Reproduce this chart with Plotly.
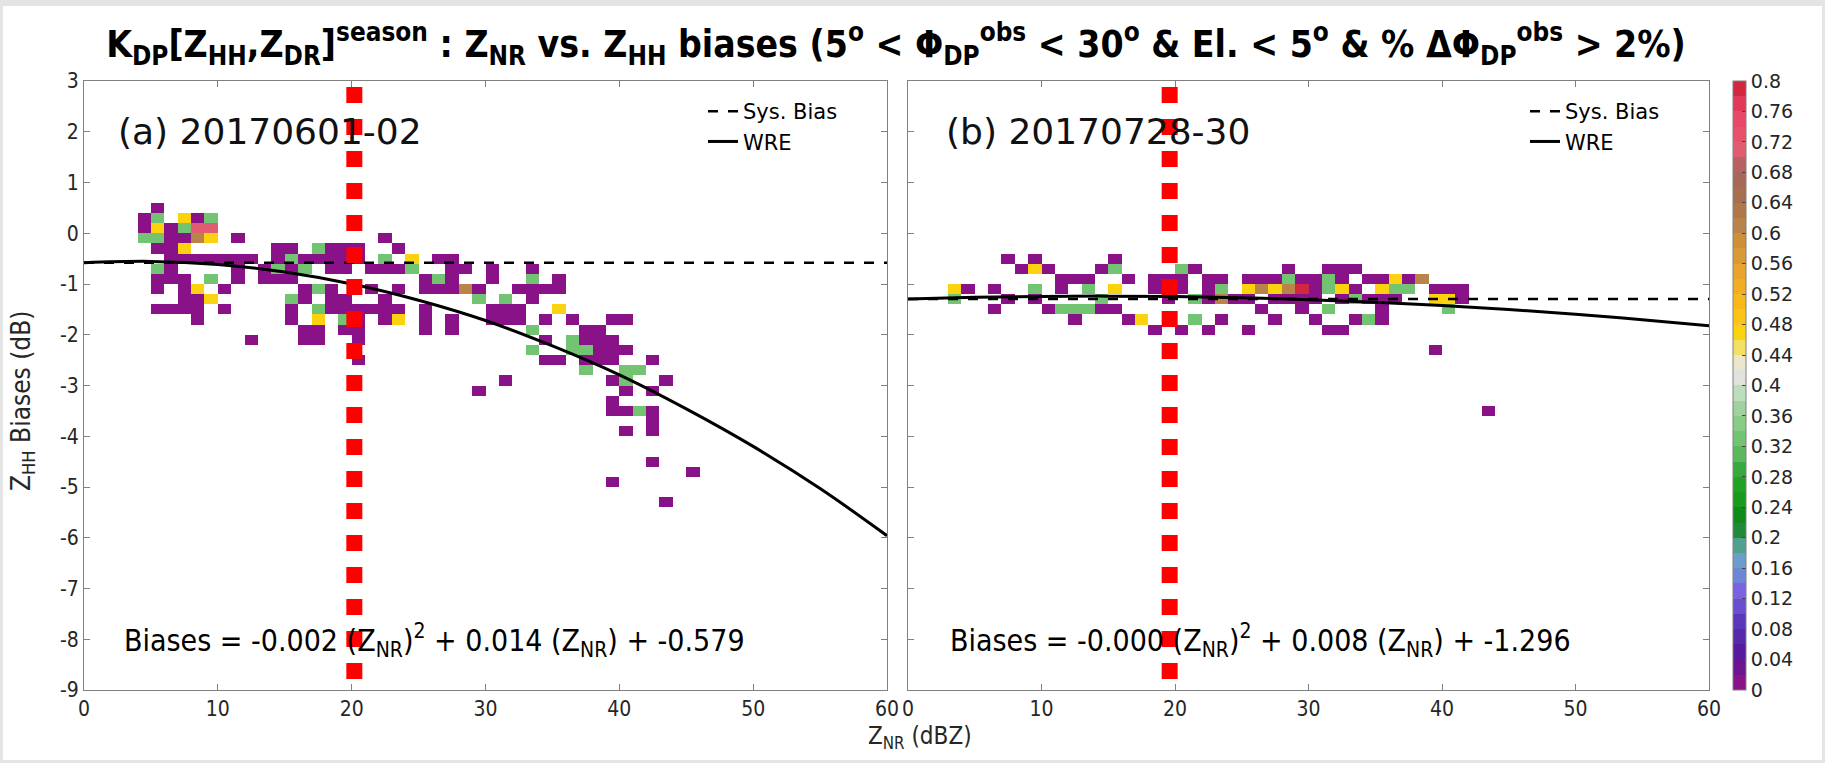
import plotly.graph_objects as go

# ---------------- data ----------------
# fraction levels used by the cells
P, G, Y, B, K, R = 0.01, 0.33, 0.47, 0.61, 0.71, 0.79

# Panel (a) 20170601-02 : rows of (bias bin centre, ZNR bin centres, fractions)
A_ROWS = [
    (0.5,  [5.5], [P]),
    (0.3,  [4.5, 5.5, 7.5, 8.5, 9.5], [P, G, Y, P, G]),
    (0.1,  [4.5, 5.5, 6.5, 7.5, 8.5, 9.5], [P, Y, P, G, K, K]),
    (-0.1, [4.5, 5.5, 6.5, 7.5, 8.5, 9.5, 11.5, 22.5], [G, G, P, P, B, Y, P, P]),
    (-0.3, [5.5, 6.5, 7.5, 14.5, 15.5, 17.5, 18.5, 19.5, 20.5, 23.5], [P, P, Y, P, P, G, P, P, P, P]),
    (-0.5, [6.5, 7.5, 8.5, 9.5, 10.5, 11.5, 12.5, 14.5, 15.5, 16.5, 17.5, 18.5, 19.5, 20.5, 22.5, 24.5, 26.5, 27.5],
           [P, P, P, P, P, P, P, P, G, P, P, P, P, P, G, Y, P, P]),
    (-0.7, [5.5, 6.5, 11.5, 13.5, 14.5, 15.5, 16.5, 18.5, 19.5, 21.5, 22.5, 23.5, 24.5, 27.5, 28.5, 30.5, 33.5],
           [G, P, P, P, G, P, G, P, P, P, P, P, G, P, P, P, P]),
    (-0.9, [5.5, 6.5, 7.5, 9.5, 11.5, 13.5, 14.5, 15.5, 25.5, 26.5, 27.5, 30.5, 33.5, 35.5],
           [P, P, P, G, P, P, P, P, P, G, P, P, G, P]),
    (-1.1, [5.5, 7.5, 8.5, 10.5, 16.5, 17.5, 18.5, 21.5, 23.5, 25.5, 26.5, 27.5, 28.5, 29.5, 32.5, 33.5, 34.5, 35.5],
           [P, P, Y, P, P, G, P, P, P, P, P, P, B, P, P, P, P, P]),
    (-1.3, [7.5, 8.5, 9.5, 15.5, 16.5, 18.5, 19.5, 22.5, 29.5, 31.5, 33.5], [P, P, Y, G, P, P, P, P, G, G, P]),
    (-1.5, [5.5, 6.5, 7.5, 8.5, 10.5, 15.5, 17.5, 18.5, 19.5, 20.5, 21.5, 22.5, 23.5, 25.5, 30.5, 31.5, 32.5, 35.5],
           [P, P, P, P, P, P, G, P, P, P, P, P, P, P, P, P, P, Y]),
    (-1.7, [8.5, 15.5, 17.5, 19.5, 20.5, 22.5, 23.5, 25.5, 27.5, 30.5, 31.5, 32.5, 34.5, 36.5, 39.5, 40.5],
           [P, P, Y, G, P, P, Y, P, P, P, P, P, P, P, P, P]),
    (-1.9, [16.5, 17.5, 19.5, 20.5, 25.5, 27.5, 33.5, 37.5, 38.5], [P, P, P, P, P, P, G, P, P]),
    (-2.1, [12.5, 16.5, 17.5, 20.5, 34.5, 36.5, 37.5, 38.5, 39.5], [P, P, P, P, P, G, P, P, P]),
    (-2.3, [33.5, 36.5, 37.5, 38.5, 39.5, 40.5], [G, G, G, P, P, P]),
    (-2.5, [20.5, 34.5, 35.5, 37.5, 38.5, 39.5, 42.5], [P, P, P, P, P, P, P]),
    (-2.7, [37.5, 40.5, 41.5], [G, G, G]),
    (-2.9, [31.5, 39.5, 40.5, 43.5], [P, P, G, P]),
    (-3.1, [29.5, 40.5, 42.5], [P, P, P]),
    (-3.3, [39.5], [P]),
    (-3.5, [39.5, 40.5, 41.5, 42.5], [P, P, G, P]),
    (-3.7, [42.5], [P]),
    (-3.9, [40.5, 42.5], [P, P]),
    (-4.5, [42.5], [P]),
    (-4.7, [45.5], [P]),
    (-4.9, [39.5], [P]),
    (-5.3, [43.5], [P]),
]

# Panel (b) 20170728-30
B_ROWS = [
    (-0.5, [7.5, 9.5, 15.5], [P, P, P]),
    (-0.7, [8.5, 9.5, 10.5, 14.5, 15.5, 20.5, 21.5, 28.5, 31.5, 32.5, 33.5], [P, Y, P, P, G, G, P, P, P, P, P]),
    (-0.9, [11.5, 12.5, 13.5, 16.5, 18.5, 19.5, 20.5, 22.5, 23.5, 25.5, 26.5, 27.5, 28.5, 29.5, 30.5, 31.5, 32.5,
            34.5, 35.5, 36.5, 37.5, 38.5],
           [P, P, P, P, P, P, P, P, P, P, P, P, G, P, P, G, P, P, P, Y, P, B]),
    (-1.1, [3.5, 4.5, 6.5, 9.5, 11.5, 13.5, 15.5, 18.5, 19.5, 20.5, 22.5, 23.5, 25.5, 26.5, 27.5, 28.5, 29.5, 30.5,
            31.5, 32.5, 33.5, 35.5, 36.5, 37.5, 39.5, 40.5, 41.5],
           [Y, P, P, G, P, G, Y, P, P, P, P, G, Y, B, Y, B, R, P, G, Y, P, Y, G, G, P, P, P]),
    (-1.3, [3.5, 7.5, 9.5, 14.5, 19.5, 21.5, 22.5, 23.5, 24.5, 25.5, 27.5, 28.5, 29.5, 30.5, 32.5, 33.5, 34.5, 35.5,
            36.5, 39.5, 40.5, 41.5],
           [G, P, P, G, P, G, P, B, P, P, P, P, P, P, P, G, P, P, P, Y, Y, P]),
    (-1.5, [6.5, 10.5, 11.5, 12.5, 13.5, 14.5, 15.5, 26.5, 29.5, 31.5, 35.5, 40.5], [P, P, G, G, G, P, P, P, P, G, P, G]),
    (-1.7, [12.5, 16.5, 17.5, 21.5, 23.5, 27.5, 30.5, 33.5, 34.5, 35.5], [P, P, Y, G, P, P, P, P, G, P]),
    (-1.9, [18.5, 20.5, 22.5, 25.5, 31.5, 32.5], [P, P, P, P, P, P]),
    (-2.3, [39.5], [P]),
    (-3.5, [43.5], [P]),
]

# WRE curves (ZNR every 5 dBZ)
WRE_X = [0, 5, 10, 15, 20, 25, 30, 35, 40, 45, 50, 55, 60]
WRE_A = [-0.58, -0.555, -0.615, -0.765, -1.0, -1.32, -1.72, -2.22, -2.79, -3.46, -4.2, -5.03, -5.96]
WRE_B = [-1.296, -1.263, -1.244, -1.239, -1.248, -1.271, -1.308, -1.359, -1.424, -1.503, -1.596, -1.703, -1.824]
SYS_A = -0.579
SYS_B = -1.296
RED_A = 20.2
RED_B = 19.6

EQ_A = "Biases = -0.002 (Z<sub>NR</sub>)<sup>2</sup> + 0.014 (Z<sub>NR</sub>) + -0.579"
EQ_B = "Biases = -0.000 (Z<sub>NR</sub>)<sup>2</sup> + 0.008 (Z<sub>NR</sub>) + -1.296"
LABEL_A = "(a) 20170601-02"
LABEL_B = "(b) 20170728-30"

CB_TICKS = [0, 0.04, 0.08, 0.12, 0.16, 0.2, 0.24, 0.28, 0.32, 0.36, 0.4, 0.44, 0.48, 0.52, 0.56, 0.6, 0.64,
            0.68, 0.72, 0.76, 0.8]
X_TICKS = [0, 10, 20, 30, 40, 50, 60]
Y_TICKS = [-9, -8, -7, -6, -5, -4, -3, -2, -1, 0, 1, 2, 3]

# 40 discrete colours, 0 -> 0.8
BAND_COLORS = [
    "#8a1289", "#6a1490", "#561a9c", "#5628aa", "#5a36ba", "#6a4ed2", "#7a62e0", "#6e86d6", "#6c9ccc", "#50a08e",
    "#208a38", "#108a18", "#189a1c", "#22a224", "#36aa3c", "#5cb85c", "#72c472", "#88cc88", "#9ed29e", "#bedcbe",
    "#e0e2dc", "#ece6cc", "#f4e060", "#fcd20e", "#fcc418", "#f8b81a", "#f2ae22", "#e8a42e", "#d89a34", "#cc9038",
    "#b8844a", "#b07848", "#a86e52", "#a86858", "#b86062", "#e05c70", "#e8506c", "#e84868", "#e03858", "#d0283e",
]

# ---------------- build ----------------
XC = [i + 0.5 for i in range(60)]
YC = [round(-8.9 + 0.2 * j, 1) for j in range(60)]


def grid(rows):
    z = [[None] * 60 for _ in range(60)]
    for yb, xs, vs in rows:
        j = int(round((yb + 8.9) / 0.2))
        for x, v in zip(xs, vs):
            z[j][int(x)] = v
    return z


n = len(BAND_COLORS)
cscale = []
for i, c in enumerate(BAND_COLORS):
    cscale.append([i / n, c])
    cscale.append([(i + 1) / n, c])

W, H = 1825, 763
ML, MR, MT, MB = 84, 116, 81, 73
PW, PH = W - ML - MR, H - MT - MB


def px(xp):
    return (xp - ML) / PW


def py(yp):
    return 1 - (yp - MT) / PH


COND = "DejaVu Sans Condensed, Liberation Sans Narrow, DejaVu Sans, sans-serif"
REG = "DejaVu Sans, sans-serif"
TXT = "#262626"
AXC = "#808080"

fig = go.Figure()

fig.add_trace(go.Heatmap(x=XC, y=YC, z=grid(A_ROWS), zmin=0, zmax=0.8, colorscale=cscale, hoverongaps=False,
                         xaxis="x", yaxis="y", showscale=True,
                         colorbar=dict(x=px(1733), xanchor="left", xpad=0, ypad=0, y=0.5, yanchor="middle", len=1,
                                       lenmode="fraction", thickness=13, outlinecolor=AXC, outlinewidth=1,
                                       ticks="inside", ticklen=4, tickcolor="#444", tickvals=CB_TICKS,
                                       ticktext=[f"{t:g}" for t in CB_TICKS],
                                       tickfont=dict(family=REG, size=19, color=TXT))))
fig.add_trace(go.Heatmap(x=XC, y=YC, z=grid(B_ROWS), zmin=0, zmax=0.8, colorscale=cscale, hoverongaps=False,
                         xaxis="x2", yaxis="y2", showscale=False))

for xa, ya, sysv, wre, red, lg in [("x", "y", SYS_A, WRE_A, RED_A, "legend"),
                                    ("x2", "y2", SYS_B, WRE_B, RED_B, "legend2")]:
    fig.add_trace(go.Scatter(x=[0, 60], y=[sysv, sysv], mode="lines", name="Sys. Bias", xaxis=xa, yaxis=ya,
                             line=dict(color="black", width=2.5, dash="10px,10px"), legend=lg, legendgroup="s"))
    fig.add_trace(go.Scatter(x=WRE_X, y=wre, mode="lines", name="WRE", xaxis=xa, yaxis=ya,
                             line=dict(color="black", width=3, shape="spline"), legend=lg, legendgroup="w"))
    fig.add_trace(go.Scatter(x=[red, red], y=[2.88, -9], mode="lines", xaxis=xa, yaxis=ya, showlegend=False,
                             line=dict(color="#ff0000", width=16, dash="16px,16px")))

axis_common = dict(showgrid=False, zeroline=False, showline=True, linecolor=AXC, linewidth=1, mirror="ticks",
                   ticks="inside", ticklen=6, tickcolor=AXC, tickfont=dict(family=COND, size=21, color=TXT))

fig.update_layout(
    width=W, height=H, margin=dict(l=ML, r=MR, t=MT, b=MB),
    paper_bgcolor="#e4e4e4", plot_bgcolor="white",
    xaxis=dict(domain=[0, px(887)], range=[0, 60], tickvals=X_TICKS, ticktext=[str(t) for t in X_TICKS],
               anchor="y", **axis_common),
    yaxis=dict(domain=[0, 1], range=[-9, 3], tickvals=Y_TICKS, ticktext=[str(t) for t in Y_TICKS],
               anchor="x", **axis_common),
    xaxis2=dict(domain=[px(908), 1], range=[0, 60], tickvals=X_TICKS, ticktext=[str(t) for t in X_TICKS],
                anchor="y2", **axis_common),
    yaxis2=dict(domain=[0, 1], range=[-9, 3], tickvals=Y_TICKS, showticklabels=False, anchor="x2", **axis_common),
    legend=dict(x=px(703), y=py(91), xanchor="left", yanchor="top", bgcolor="rgba(0,0,0,0)",
                font=dict(family=REG, size=21, color="black"), tracegroupgap=0, traceorder="grouped"),
    legend2=dict(x=px(1525), y=py(91), xanchor="left", yanchor="top", bgcolor="rgba(0,0,0,0)",
                 font=dict(family=REG, size=21, color="black"), tracegroupgap=0, traceorder="grouped"),
    title=dict(text="K<sub>DP</sub>[Z<sub>HH</sub>,Z<sub>DR</sub>]<sup>season</sup> : Z<sub>NR</sub> vs. "
                    "Z<sub>HH</sub> biases (5<sup>o</sup> &lt; Φ<sub>DP</sub><sup>obs</sup> &lt; 30<sup>o</sup> "
                    "&amp; El. &lt; 5<sup>o</sup> &amp; % ΔΦ<sub>DP</sub><sup>obs</sup> &gt; 2%)",
               x=px(896), xanchor="center", xref="paper", y=1 - 44 / H, yanchor="middle",
               font=dict(family=COND, size=37, color="black", weight="bold")),
    showlegend=True,
)

# white page with thin grey frame
fig.add_shape(type="rect", xref="paper", yref="paper", layer="below", line=dict(width=0), fillcolor="white",
              x0=px(3), x1=px(W - 3), y0=py(H - 3), y1=py(6))

ann = [
    dict(text=LABEL_A, x=px(116), y=py(131), xanchor="left", yanchor="middle",
         font=dict(family=REG, size=36, color="#111")),
    dict(text=LABEL_B, x=px(944), y=py(131), xanchor="left", yanchor="middle",
         font=dict(family=REG, size=36, color="#111")),
    dict(text=EQ_A, x=px(122), y=py(640), xanchor="left", yanchor="middle",
         font=dict(family=COND, size=30, color="black")),
    dict(text=EQ_B, x=px(948), y=py(640), xanchor="left", yanchor="middle",
         font=dict(family=COND, size=30, color="black")),
    dict(text="Z<sub>NR</sub> (dBZ)", x=px(920), y=py(738), xanchor="center", yanchor="middle",
         font=dict(family=COND, size=24, color=TXT)),
    dict(text="Z<sub>HH</sub> Biases (dB)", x=px(22), y=py(401), xanchor="center", yanchor="middle", textangle=-90,
         font=dict(family=COND, size=26, color=TXT)),
]
for a in ann:
    a.update(xref="paper", yref="paper", showarrow=False)
fig.update_layout(annotations=ann)

fig.write_html("out.html")
